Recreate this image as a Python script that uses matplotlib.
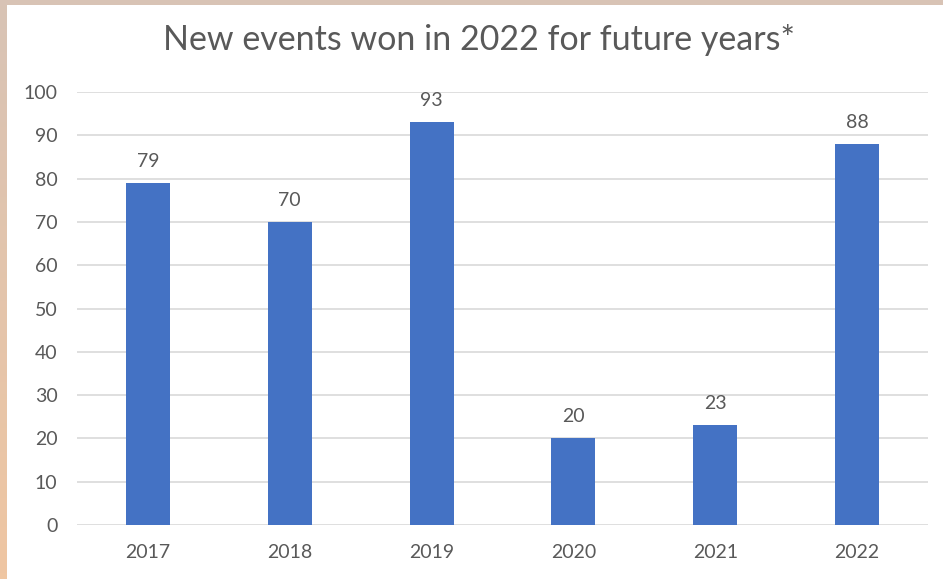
import matplotlib.pyplot as plt
import numpy as np

years = ["2017", "2018", "2019", "2020", "2021", "2022"]
events = [79, 70, 93, 20, 23, 88]
y_ticks = [0, 10, 20, 30, 40, 50, 60, 70, 80, 90, 100]

plt.rcParams['font.family'] = ['Lato', 'DejaVu Sans']
text_col = "#595959"

fig = plt.figure(figsize=(9.43, 5.79), dpi=100)
fig.patch.set_facecolor("white")

# beige frame on top and left (gradient on the left edge)
top = fig.add_axes([0, 1 - 5 / 579, 1, 5 / 579])
top.set_axis_off()
top.imshow([[0, 0]], cmap=plt.matplotlib.colors.ListedColormap(["#D8C3B5"]), aspect="auto")
left = fig.add_axes([0, 0, 7 / 943, 1])
left.set_axis_off()
grad = np.linspace(0, 1, 100).reshape(-1, 1)
cmap = plt.matplotlib.colors.LinearSegmentedColormap.from_list("frame", ["#D8C3B5", "#EFC6A2"])
left.imshow(grad, cmap=cmap, aspect="auto")

ax = fig.add_axes([77 / 943, 1 - 525 / 579, (928 - 77) / 943, (525 - 92) / 579])
x = np.arange(len(years))
bars = ax.bar(x, events, width=0.31, color="#4472C4", zorder=3)
for xi, v in zip(x, events):
    ax.text(xi, v + 3, str(v), ha="center", va="bottom", fontsize=14, color=text_col)

ax.set_xlim(-0.5, len(years) - 0.5)
ax.set_ylim(0, 100)
ax.set_yticks(y_ticks)
ax.set_xticks(x)
ax.set_xticklabels(years)
ax.tick_params(axis="both", length=0, labelsize=14, labelcolor=text_col)
ax.tick_params(axis="y", pad=14)
ax.tick_params(axis="x", pad=14)
ax.grid(axis="y", color="#D9D9D9", linewidth=1.2, zorder=0)
for s in ax.spines.values():
    s.set_visible(False)

fig.text(479 / 943, 1 - 40 / 579, "New events won in 2022 for future years*",
         ha="center", va="center", fontsize=24.5, color=text_col)

fig.savefig("out.png", dpi=100)
